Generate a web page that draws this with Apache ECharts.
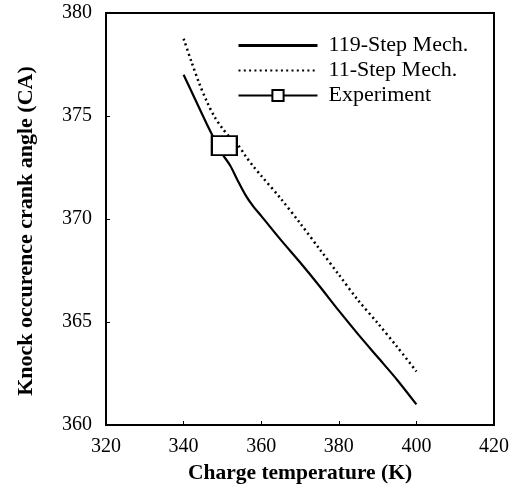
<!DOCTYPE html>
<html>
<head>
<meta charset="utf-8">
<title>Knock occurence crank angle</title>
<script src="https://cdn.jsdelivr.net/npm/echarts@6/dist/echarts.min.js"></script>
<style>
	html, body { margin: 0; padding: 0; background: #fff; }
	#chart { width: 526px; height: 485px; }
</style>
</head>
<body>
<div id="chart"></div>
<script type="text/javascript">
	// values
	var mech119X = [340, 343, 346, 348, 350, 352, 354, 356, 358, 360, 365, 370, 375, 380, 385, 390, 395, 400];
	var mech119Y = [377.0, 375.8, 374.6, 373.85, 373.15, 372.6, 371.85, 371.15, 370.6, 370.15, 369.0, 367.9, 366.75, 365.55, 364.4, 363.3, 362.2, 361.0];
	var mech11X = [340, 342, 344, 346, 348, 350, 352, 354, 356, 358, 360, 365, 370, 375, 380, 385, 390, 395, 400];
	var mech11Y = [378.75, 377.65, 376.6, 375.7, 374.95, 374.4, 373.95, 373.6, 373.05, 372.55, 372.1, 371.0, 369.8, 368.55, 367.3, 366.05, 364.95, 363.8, 362.6];
	var expX = [350.5];
	var expY = [373.56];
	var names = ['119-Step Mech.', '11-Step Mech.', 'Experiment'];

	function pairs(xs, ys) {
		var out = [];
		for (var i = 0; i < xs.length; i++) {
			out.push([xs[i], ys[i]]);
		}
		return out;
	}

	var font = 'Liberation Serif';
	var myChart = echarts.init(document.getElementById('chart'));
	var option = {
		backgroundColor: '#fff',
		animation: false,
		grid: {
			left: 106,
			right: 32,
			top: 13,
			bottom: 60,
			outerBoundsMode: 'none',
			show: true,
			borderColor: '#000',
			borderWidth: 2
		},
		legend: {
			// no dot on the plain line entries
			data: [
				{ name: names[0], itemStyle: { opacity: 0 }, lineStyle: { width: 3 } },
				{ name: names[1], itemStyle: { opacity: 0 } },
				{ name: names[2], lineStyle: { width: 2 } }
			],
			orient: 'vertical',
			left: 237,
			top: 33,
			padding: 0,
			itemWidth: 79,
			itemHeight: 14,
			itemGap: 0,
			textStyle: {
				fontFamily: font,
				fontSize: 22,
				color: '#000',
				lineHeight: 25,
				padding: [0, 0, 0, 6]
			}
		},
		xAxis: {
			type: 'value',
			min: 320,
			max: 420,
			interval: 20,
			name: 'Charge temperature (K)',
			nameLocation: 'middle',
			nameGap: 37,
			nameTextStyle: { fontFamily: font, fontSize: 21.5, fontWeight: 'bold', color: '#000' },
			axisLine: { lineStyle: { color: '#000', width: 2 } },
			axisTick: { inside: true, length: 4, lineStyle: { color: '#000', width: 1 } },
			axisLabel: { fontFamily: font, fontSize: 20, color: '#000', margin: 12 },
			splitLine: { show: false }
		},
		yAxis: {
			type: 'value',
			min: 360,
			max: 380,
			interval: 5,
			name: 'Knock occurence crank angle (CA)',
			nameLocation: 'middle',
			nameGap: 69,
			nameTextStyle: { fontFamily: font, fontSize: 22, fontWeight: 'bold', color: '#000', padding: [0, 24, 0, 0] },
			axisLine: { lineStyle: { color: '#000', width: 2 } },
			axisTick: { inside: true, length: 4, lineStyle: { color: '#000', width: 1 } },
			axisLabel: { fontFamily: font, fontSize: 20, color: '#000', margin: 14 },
			splitLine: { show: false }
		},
		series: [
			{
				name: names[0],
				type: 'line',
				data: pairs(mech119X, mech119Y),
				smooth: 0.3,
				symbol: 'none',
				lineStyle: { color: '#000', width: 2.2 },
				itemStyle: { color: '#000' }
			},
			{
				name: names[1],
				type: 'line',
				data: pairs(mech11X, mech11Y),
				smooth: 0.3,
				symbol: 'none',
				lineStyle: { color: '#000', width: 2.5, type: [2, 3.3] },
				itemStyle: { color: '#000' }
			},
			{
				name: names[2],
				type: 'line',
				data: pairs(expX, expY),
				symbol: 'rect',
				symbolSize: [25, 19],
				lineStyle: { color: '#000', width: 1.5 },
				itemStyle: { color: '#fff', borderColor: '#000', borderWidth: 2 },
				z: 5
			}
		]
	};
	myChart.setOption(option);
</script>
</body>
</html>
